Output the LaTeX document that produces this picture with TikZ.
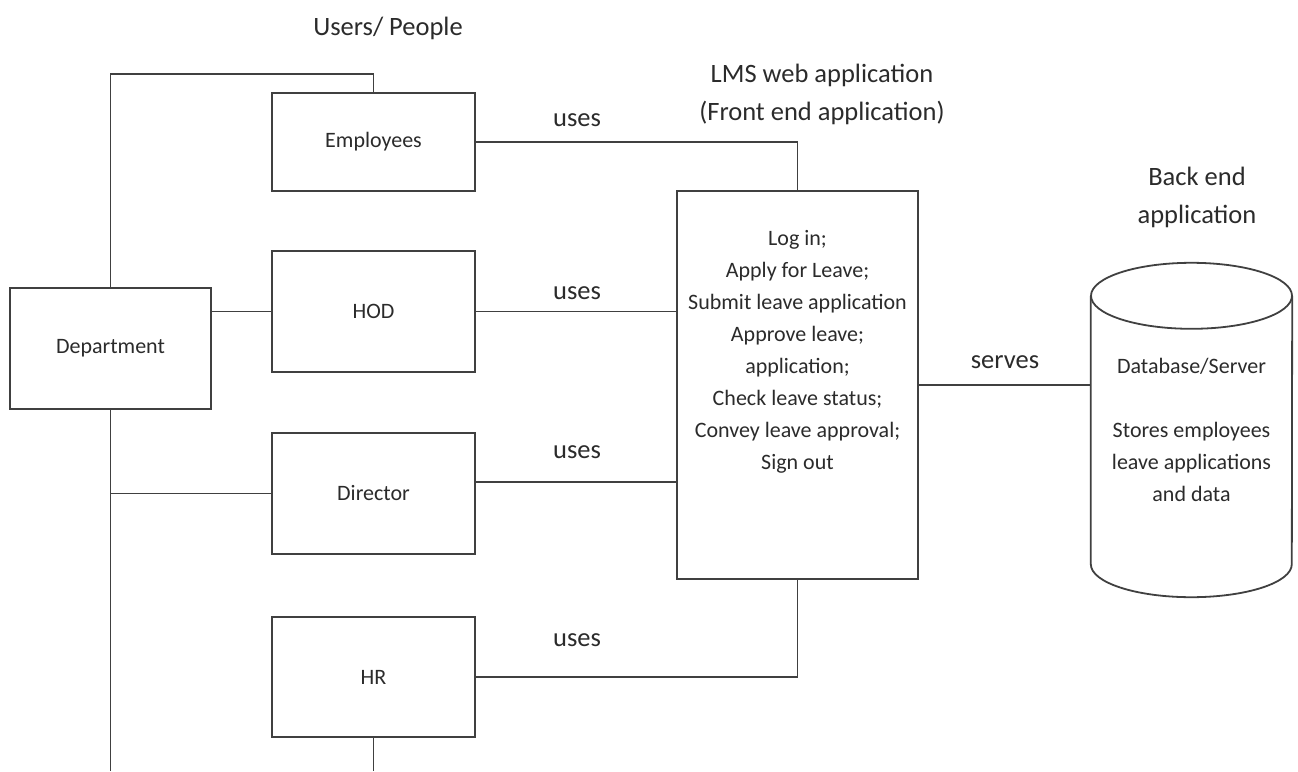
\documentclass[tikz,border=0pt]{standalone}
\usepackage{fontspec}
\setmainfont{Carlito}
\usetikzlibrary{calc}
\definecolor{ln}{HTML}{404040}
\definecolor{tx}{HTML}{2B2B2B}
\begin{document}
\begin{tikzpicture}[x=1pt,y=-1pt,
 box/.style={draw=ln, line width=1.8pt, minimum width=203pt, font=\fontsize{22}{32}\selectfont, text=tx, inner sep=0pt},
 conn/.style={draw=ln, line width=1.8pt},
 big/.style={font=\fontsize{26.5}{38}\selectfont, text=tx, align=center, inner sep=0pt},
 inner/.style={font=\fontsize{22}{32}\selectfont, text=tx, align=center, inner sep=0pt}]
\useasboundingbox (0,0) rectangle (1298,771);

% user boxes
\node[box, minimum height=98pt]  (emp)  at (373.5,142)   {Employees};
\node[box, minimum height=121pt] (hod)  at (373.5,311.5) {HOD};
\node[box, minimum height=121pt] (dir)  at (373.5,493.5) {Director};
\node[box, minimum height=120pt] (hr)   at (373.5,677)   {HR};
\node[box, minimum width=201pt, minimum height=121pt] (dept) at (110.5,348.5) {Department};

% front end
\node[draw=ln, line width=1.8pt, minimum width=241pt, minimum height=388pt, inner sep=0pt] (fe) at (797.5,385) {};
\node[inner] (fetext) at (797.5,352) {Log in;\\Apply for Leave;\\Submit leave application\\Approve leave;\\application;\\Check leave status;\\Convey leave approval;\\Sign out};

% database
\node[inner, minimum width=201pt, minimum height=334pt] (db) at (1191.5,430) {Database/Server\\[32pt]Stores employees\\leave applications\\and data};
\draw[conn] ($(db.north)+(0,33)$) ellipse [x radius=100.5pt, y radius=33pt];
\draw[conn] ($(db.north west)+(0,33)$) -- ($(db.south west)+(0,-33)$)
  arc[start angle=180, end angle=360, x radius=100.5pt, y radius=33pt]
  -- ($(db.north east)+(0,33)$);

% titles
\node[big] (users) at (388,28) {Users/ People};
\node[big] (lms) at (822,94) {LMS web application\\(Front end application)};
\node[big] (back) at (1197,197.5) {Back end\\application};

% connectors on the left
\coordinate (bottom) at (0,771);
\draw[conn] (dept.north) |- ($(emp.north)+(0,-18)$) -- (emp.north);
\draw[conn] (hod.west) -- (hod.west -| dept.east);
\draw[conn] (dept.south) -- (dept.south |- bottom);
\draw[conn] (dir.west) -- (dir.west -| dept.south);
\draw[conn] (hr.south) -- (hr.south |- bottom);

% connectors to front end
\coordinate (dirout) at ($(dir.east)+(0,-11.5)$);
\draw[conn] (emp.east) -| (fe.north);
\draw[conn] (hod.east) -- (hod.east -| fe.west);
\draw[conn] (dirout) -- (dirout -| fe.west);
\draw[conn] (hr.east) -| (fe.south);
\draw[conn] (fe.east) -- (fe.east -| db.west);

% labels
\node[big] (u1) at (577,120) {uses};
\node[big] (u2) at (577,293) {uses};
\node[big] (u3) at (577,452) {uses};
\node[big] (u4) at (577,640) {uses};
\node[big] (sv) at (1005,362) {serves};
\end{tikzpicture}
\end{document}
